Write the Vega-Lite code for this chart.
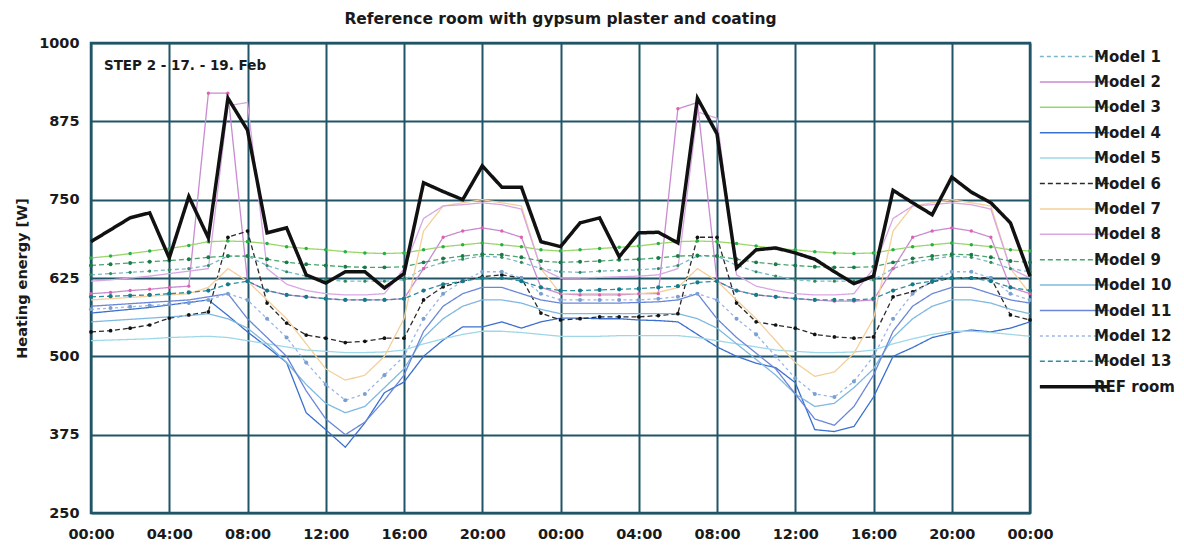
{
"$schema":"https://vega.github.io/schema/vega-lite/v6.json",
"width":939,"height":470,
"autosize":{"type":"none"},
"padding":{"left":91,"top":43,"right":154,"bottom":35},
"background":"white",
"title":{"text":"Reference room with gypsum plaster and coating","fontSize":15.5,"font":"DejaVu Sans","fontWeight":"bold","color":"#1a1a1a","offset":8,"anchor":"middle"},
"config":{
 "view":{"stroke":"#1f5566","strokeWidth":2.5},
 "axis":{"labelFont":"DejaVu Sans","labelFontWeight":"bold","labelFontSize":14.5,"labelColor":"#1a1a1a","tickSize":0,"domain":false,"gridColor":"#1f5566","gridWidth":2,"gridOpacity":1,"titleFont":"DejaVu Sans","titleFontWeight":"bold","titleFontSize":14.5,"titleColor":"#1a1a1a","labelOverlap":false,"labelFlush":false},
 "legend":{"orient":"none","legendX":976,"legendY":6,"labelFont":"DejaVu Sans","labelFontWeight":"bold","labelFontSize":15,"labelColor":"#1a1a1a","symbolType":"stroke","symbolSize":4800,"labelLimit":300,"padding":0,"rowPadding":9.4,"symbolStrokeWidth":1.5,"labelOffset":12}
},
"data":{"values":[
{"s":"Model 1","h":0,"v":630},{"s":"Model 1","h":1,"v":632},{"s":"Model 1","h":2,"v":634},{"s":"Model 1","h":3,"v":636},{"s":"Model 1","h":4,"v":638},{"s":"Model 1","h":5,"v":640},{"s":"Model 1","h":6,"v":645},{"s":"Model 1","h":7,"v":660},{"s":"Model 1","h":8,"v":660},{"s":"Model 1","h":9,"v":645},{"s":"Model 1","h":10,"v":635},{"s":"Model 1","h":11,"v":628},{"s":"Model 1","h":12,"v":622},{"s":"Model 1","h":13,"v":620},{"s":"Model 1","h":14,"v":620},{"s":"Model 1","h":15,"v":620},{"s":"Model 1","h":16,"v":622},{"s":"Model 1","h":17,"v":640},{"s":"Model 1","h":18,"v":650},{"s":"Model 1","h":19,"v":655},{"s":"Model 1","h":20,"v":660},{"s":"Model 1","h":21,"v":658},{"s":"Model 1","h":22,"v":650},{"s":"Model 1","h":23,"v":640},{"s":"Model 1","h":24,"v":635},{"s":"Model 1","h":25,"v":634},{"s":"Model 1","h":26,"v":636},{"s":"Model 1","h":27,"v":637},{"s":"Model 1","h":28,"v":638},{"s":"Model 1","h":29,"v":640},{"s":"Model 1","h":30,"v":645},{"s":"Model 1","h":31,"v":660},{"s":"Model 1","h":32,"v":660},{"s":"Model 1","h":33,"v":645},{"s":"Model 1","h":34,"v":635},{"s":"Model 1","h":35,"v":628},{"s":"Model 1","h":36,"v":622},{"s":"Model 1","h":37,"v":620},{"s":"Model 1","h":38,"v":620},{"s":"Model 1","h":39,"v":620},{"s":"Model 1","h":40,"v":622},{"s":"Model 1","h":41,"v":640},{"s":"Model 1","h":42,"v":650},{"s":"Model 1","h":43,"v":655},{"s":"Model 1","h":44,"v":660},{"s":"Model 1","h":45,"v":658},{"s":"Model 1","h":46,"v":650},{"s":"Model 1","h":47,"v":640},{"s":"Model 1","h":48,"v":635},
{"s":"Model 2","h":0,"v":600},{"s":"Model 2","h":1,"v":602},{"s":"Model 2","h":2,"v":605},{"s":"Model 2","h":3,"v":607},{"s":"Model 2","h":4,"v":610},{"s":"Model 2","h":5,"v":612},{"s":"Model 2","h":6,"v":920},{"s":"Model 2","h":7,"v":920},{"s":"Model 2","h":8,"v":620},{"s":"Model 2","h":9,"v":605},{"s":"Model 2","h":10,"v":598},{"s":"Model 2","h":11,"v":595},{"s":"Model 2","h":12,"v":592},{"s":"Model 2","h":13,"v":590},{"s":"Model 2","h":14,"v":590},{"s":"Model 2","h":15,"v":590},{"s":"Model 2","h":16,"v":592},{"s":"Model 2","h":17,"v":640},{"s":"Model 2","h":18,"v":690},{"s":"Model 2","h":19,"v":700},{"s":"Model 2","h":20,"v":705},{"s":"Model 2","h":21,"v":700},{"s":"Model 2","h":22,"v":690},{"s":"Model 2","h":23,"v":610},{"s":"Model 2","h":24,"v":600},{"s":"Model 2","h":25,"v":598},{"s":"Model 2","h":26,"v":598},{"s":"Model 2","h":27,"v":598},{"s":"Model 2","h":28,"v":600},{"s":"Model 2","h":29,"v":600},{"s":"Model 2","h":30,"v":895},{"s":"Model 2","h":31,"v":905},{"s":"Model 2","h":32,"v":620},{"s":"Model 2","h":33,"v":605},{"s":"Model 2","h":34,"v":598},{"s":"Model 2","h":35,"v":595},{"s":"Model 2","h":36,"v":592},{"s":"Model 2","h":37,"v":590},{"s":"Model 2","h":38,"v":588},{"s":"Model 2","h":39,"v":588},{"s":"Model 2","h":40,"v":590},{"s":"Model 2","h":41,"v":640},{"s":"Model 2","h":42,"v":690},{"s":"Model 2","h":43,"v":700},{"s":"Model 2","h":44,"v":705},{"s":"Model 2","h":45,"v":700},{"s":"Model 2","h":46,"v":690},{"s":"Model 2","h":47,"v":610},{"s":"Model 2","h":48,"v":600},
{"s":"Model 3","h":0,"v":657},{"s":"Model 3","h":1,"v":660},{"s":"Model 3","h":2,"v":664},{"s":"Model 3","h":3,"v":668},{"s":"Model 3","h":4,"v":672},{"s":"Model 3","h":5,"v":677},{"s":"Model 3","h":6,"v":683},{"s":"Model 3","h":7,"v":684},{"s":"Model 3","h":8,"v":683},{"s":"Model 3","h":9,"v":680},{"s":"Model 3","h":10,"v":675},{"s":"Model 3","h":11,"v":672},{"s":"Model 3","h":12,"v":670},{"s":"Model 3","h":13,"v":667},{"s":"Model 3","h":14,"v":665},{"s":"Model 3","h":15,"v":664},{"s":"Model 3","h":16,"v":665},{"s":"Model 3","h":17,"v":670},{"s":"Model 3","h":18,"v":675},{"s":"Model 3","h":19,"v":678},{"s":"Model 3","h":20,"v":681},{"s":"Model 3","h":21,"v":678},{"s":"Model 3","h":22,"v":675},{"s":"Model 3","h":23,"v":670},{"s":"Model 3","h":24,"v":668},{"s":"Model 3","h":25,"v":670},{"s":"Model 3","h":26,"v":672},{"s":"Model 3","h":27,"v":674},{"s":"Model 3","h":28,"v":676},{"s":"Model 3","h":29,"v":680},{"s":"Model 3","h":30,"v":683},{"s":"Model 3","h":31,"v":684},{"s":"Model 3","h":32,"v":683},{"s":"Model 3","h":33,"v":680},{"s":"Model 3","h":34,"v":676},{"s":"Model 3","h":35,"v":672},{"s":"Model 3","h":36,"v":670},{"s":"Model 3","h":37,"v":667},{"s":"Model 3","h":38,"v":665},{"s":"Model 3","h":39,"v":664},{"s":"Model 3","h":40,"v":665},{"s":"Model 3","h":41,"v":670},{"s":"Model 3","h":42,"v":675},{"s":"Model 3","h":43,"v":678},{"s":"Model 3","h":44,"v":681},{"s":"Model 3","h":45,"v":678},{"s":"Model 3","h":46,"v":675},{"s":"Model 3","h":47,"v":670},{"s":"Model 3","h":48,"v":668},
{"s":"Model 4","h":0,"v":569},{"s":"Model 4","h":1,"v":572},{"s":"Model 4","h":2,"v":575},{"s":"Model 4","h":3,"v":578},{"s":"Model 4","h":4,"v":582},{"s":"Model 4","h":5,"v":586},{"s":"Model 4","h":6,"v":590},{"s":"Model 4","h":7,"v":565},{"s":"Model 4","h":8,"v":539},{"s":"Model 4","h":9,"v":515},{"s":"Model 4","h":10,"v":490},{"s":"Model 4","h":11,"v":410},{"s":"Model 4","h":12,"v":383},{"s":"Model 4","h":13,"v":355},{"s":"Model 4","h":14,"v":394},{"s":"Model 4","h":15,"v":442},{"s":"Model 4","h":16,"v":459},{"s":"Model 4","h":17,"v":500},{"s":"Model 4","h":18,"v":526},{"s":"Model 4","h":19,"v":547},{"s":"Model 4","h":20,"v":547},{"s":"Model 4","h":21,"v":555},{"s":"Model 4","h":22,"v":545},{"s":"Model 4","h":23,"v":555},{"s":"Model 4","h":24,"v":561},{"s":"Model 4","h":25,"v":561},{"s":"Model 4","h":26,"v":560},{"s":"Model 4","h":27,"v":560},{"s":"Model 4","h":28,"v":558},{"s":"Model 4","h":29,"v":557},{"s":"Model 4","h":30,"v":555},{"s":"Model 4","h":31,"v":535},{"s":"Model 4","h":32,"v":515},{"s":"Model 4","h":33,"v":500},{"s":"Model 4","h":34,"v":489},{"s":"Model 4","h":35,"v":482},{"s":"Model 4","h":36,"v":458},{"s":"Model 4","h":37,"v":383},{"s":"Model 4","h":38,"v":380},{"s":"Model 4","h":39,"v":388},{"s":"Model 4","h":40,"v":435},{"s":"Model 4","h":41,"v":500},{"s":"Model 4","h":42,"v":514},{"s":"Model 4","h":43,"v":530},{"s":"Model 4","h":44,"v":537},{"s":"Model 4","h":45,"v":542},{"s":"Model 4","h":46,"v":539},{"s":"Model 4","h":47,"v":545},{"s":"Model 4","h":48,"v":555},
{"s":"Model 5","h":0,"v":525},{"s":"Model 5","h":1,"v":526},{"s":"Model 5","h":2,"v":527},{"s":"Model 5","h":3,"v":528},{"s":"Model 5","h":4,"v":530},{"s":"Model 5","h":5,"v":531},{"s":"Model 5","h":6,"v":532},{"s":"Model 5","h":7,"v":530},{"s":"Model 5","h":8,"v":525},{"s":"Model 5","h":9,"v":520},{"s":"Model 5","h":10,"v":515},{"s":"Model 5","h":11,"v":510},{"s":"Model 5","h":12,"v":508},{"s":"Model 5","h":13,"v":506},{"s":"Model 5","h":14,"v":506},{"s":"Model 5","h":15,"v":507},{"s":"Model 5","h":16,"v":510},{"s":"Model 5","h":17,"v":520},{"s":"Model 5","h":18,"v":528},{"s":"Model 5","h":19,"v":535},{"s":"Model 5","h":20,"v":540},{"s":"Model 5","h":21,"v":540},{"s":"Model 5","h":22,"v":538},{"s":"Model 5","h":23,"v":535},{"s":"Model 5","h":24,"v":532},{"s":"Model 5","h":25,"v":532},{"s":"Model 5","h":26,"v":532},{"s":"Model 5","h":27,"v":533},{"s":"Model 5","h":28,"v":533},{"s":"Model 5","h":29,"v":533},{"s":"Model 5","h":30,"v":533},{"s":"Model 5","h":31,"v":530},{"s":"Model 5","h":32,"v":525},{"s":"Model 5","h":33,"v":520},{"s":"Model 5","h":34,"v":515},{"s":"Model 5","h":35,"v":510},{"s":"Model 5","h":36,"v":508},{"s":"Model 5","h":37,"v":506},{"s":"Model 5","h":38,"v":506},{"s":"Model 5","h":39,"v":507},{"s":"Model 5","h":40,"v":510},{"s":"Model 5","h":41,"v":520},{"s":"Model 5","h":42,"v":528},{"s":"Model 5","h":43,"v":535},{"s":"Model 5","h":44,"v":540},{"s":"Model 5","h":45,"v":540},{"s":"Model 5","h":46,"v":538},{"s":"Model 5","h":47,"v":535},{"s":"Model 5","h":48,"v":532},
{"s":"Model 6","h":0,"v":539},{"s":"Model 6","h":1,"v":541},{"s":"Model 6","h":2,"v":545},{"s":"Model 6","h":3,"v":550},{"s":"Model 6","h":4,"v":561},{"s":"Model 6","h":5,"v":566},{"s":"Model 6","h":6,"v":571},{"s":"Model 6","h":7,"v":690},{"s":"Model 6","h":8,"v":700},{"s":"Model 6","h":9,"v":585},{"s":"Model 6","h":10,"v":553},{"s":"Model 6","h":11,"v":534},{"s":"Model 6","h":12,"v":529},{"s":"Model 6","h":13,"v":522},{"s":"Model 6","h":14,"v":524},{"s":"Model 6","h":15,"v":529},{"s":"Model 6","h":16,"v":529},{"s":"Model 6","h":17,"v":590},{"s":"Model 6","h":18,"v":611},{"s":"Model 6","h":19,"v":620},{"s":"Model 6","h":20,"v":627},{"s":"Model 6","h":21,"v":630},{"s":"Model 6","h":22,"v":625},{"s":"Model 6","h":23,"v":569},{"s":"Model 6","h":24,"v":558},{"s":"Model 6","h":25,"v":560},{"s":"Model 6","h":26,"v":563},{"s":"Model 6","h":27,"v":563},{"s":"Model 6","h":28,"v":563},{"s":"Model 6","h":29,"v":565},{"s":"Model 6","h":30,"v":568},{"s":"Model 6","h":31,"v":690},{"s":"Model 6","h":32,"v":690},{"s":"Model 6","h":33,"v":585},{"s":"Model 6","h":34,"v":555},{"s":"Model 6","h":35,"v":550},{"s":"Model 6","h":36,"v":545},{"s":"Model 6","h":37,"v":535},{"s":"Model 6","h":38,"v":531},{"s":"Model 6","h":39,"v":529},{"s":"Model 6","h":40,"v":531},{"s":"Model 6","h":41,"v":595},{"s":"Model 6","h":42,"v":603},{"s":"Model 6","h":43,"v":619},{"s":"Model 6","h":44,"v":625},{"s":"Model 6","h":45,"v":625},{"s":"Model 6","h":46,"v":625},{"s":"Model 6","h":47,"v":566},{"s":"Model 6","h":48,"v":558},
{"s":"Model 7","h":0,"v":590},{"s":"Model 7","h":1,"v":592},{"s":"Model 7","h":2,"v":594},{"s":"Model 7","h":3,"v":596},{"s":"Model 7","h":4,"v":598},{"s":"Model 7","h":5,"v":600},{"s":"Model 7","h":6,"v":610},{"s":"Model 7","h":7,"v":640},{"s":"Model 7","h":8,"v":620},{"s":"Model 7","h":9,"v":590},{"s":"Model 7","h":10,"v":560},{"s":"Model 7","h":11,"v":520},{"s":"Model 7","h":12,"v":480},{"s":"Model 7","h":13,"v":462},{"s":"Model 7","h":14,"v":470},{"s":"Model 7","h":15,"v":500},{"s":"Model 7","h":16,"v":560},{"s":"Model 7","h":17,"v":700},{"s":"Model 7","h":18,"v":740},{"s":"Model 7","h":19,"v":745},{"s":"Model 7","h":20,"v":750},{"s":"Model 7","h":21,"v":745},{"s":"Model 7","h":22,"v":740},{"s":"Model 7","h":23,"v":640},{"s":"Model 7","h":24,"v":600},{"s":"Model 7","h":25,"v":600},{"s":"Model 7","h":26,"v":600},{"s":"Model 7","h":27,"v":600},{"s":"Model 7","h":28,"v":600},{"s":"Model 7","h":29,"v":602},{"s":"Model 7","h":30,"v":610},{"s":"Model 7","h":31,"v":640},{"s":"Model 7","h":32,"v":620},{"s":"Model 7","h":33,"v":590},{"s":"Model 7","h":34,"v":560},{"s":"Model 7","h":35,"v":525},{"s":"Model 7","h":36,"v":490},{"s":"Model 7","h":37,"v":468},{"s":"Model 7","h":38,"v":475},{"s":"Model 7","h":39,"v":505},{"s":"Model 7","h":40,"v":560},{"s":"Model 7","h":41,"v":700},{"s":"Model 7","h":42,"v":740},{"s":"Model 7","h":43,"v":745},{"s":"Model 7","h":44,"v":750},{"s":"Model 7","h":45,"v":745},{"s":"Model 7","h":46,"v":740},{"s":"Model 7","h":47,"v":640},{"s":"Model 7","h":48,"v":600},
{"s":"Model 8","h":0,"v":620},{"s":"Model 8","h":1,"v":622},{"s":"Model 8","h":2,"v":625},{"s":"Model 8","h":3,"v":628},{"s":"Model 8","h":4,"v":632},{"s":"Model 8","h":5,"v":636},{"s":"Model 8","h":6,"v":640},{"s":"Model 8","h":7,"v":900},{"s":"Model 8","h":8,"v":905},{"s":"Model 8","h":9,"v":640},{"s":"Model 8","h":10,"v":615},{"s":"Model 8","h":11,"v":605},{"s":"Model 8","h":12,"v":600},{"s":"Model 8","h":13,"v":598},{"s":"Model 8","h":14,"v":598},{"s":"Model 8","h":15,"v":600},{"s":"Model 8","h":16,"v":640},{"s":"Model 8","h":17,"v":720},{"s":"Model 8","h":18,"v":740},{"s":"Model 8","h":19,"v":742},{"s":"Model 8","h":20,"v":745},{"s":"Model 8","h":21,"v":742},{"s":"Model 8","h":22,"v":735},{"s":"Model 8","h":23,"v":640},{"s":"Model 8","h":24,"v":625},{"s":"Model 8","h":25,"v":625},{"s":"Model 8","h":26,"v":626},{"s":"Model 8","h":27,"v":627},{"s":"Model 8","h":28,"v":628},{"s":"Model 8","h":29,"v":630},{"s":"Model 8","h":30,"v":640},{"s":"Model 8","h":31,"v":890},{"s":"Model 8","h":32,"v":880},{"s":"Model 8","h":33,"v":630},{"s":"Model 8","h":34,"v":612},{"s":"Model 8","h":35,"v":605},{"s":"Model 8","h":36,"v":600},{"s":"Model 8","h":37,"v":598},{"s":"Model 8","h":38,"v":598},{"s":"Model 8","h":39,"v":600},{"s":"Model 8","h":40,"v":640},{"s":"Model 8","h":41,"v":720},{"s":"Model 8","h":42,"v":740},{"s":"Model 8","h":43,"v":742},{"s":"Model 8","h":44,"v":745},{"s":"Model 8","h":45,"v":742},{"s":"Model 8","h":46,"v":735},{"s":"Model 8","h":47,"v":640},{"s":"Model 8","h":48,"v":625},
{"s":"Model 9","h":0,"v":645},{"s":"Model 9","h":1,"v":647},{"s":"Model 9","h":2,"v":649},{"s":"Model 9","h":3,"v":651},{"s":"Model 9","h":4,"v":653},{"s":"Model 9","h":5,"v":655},{"s":"Model 9","h":6,"v":658},{"s":"Model 9","h":7,"v":660},{"s":"Model 9","h":8,"v":660},{"s":"Model 9","h":9,"v":655},{"s":"Model 9","h":10,"v":650},{"s":"Model 9","h":11,"v":647},{"s":"Model 9","h":12,"v":645},{"s":"Model 9","h":13,"v":643},{"s":"Model 9","h":14,"v":642},{"s":"Model 9","h":15,"v":642},{"s":"Model 9","h":16,"v":643},{"s":"Model 9","h":17,"v":650},{"s":"Model 9","h":18,"v":656},{"s":"Model 9","h":19,"v":660},{"s":"Model 9","h":20,"v":663},{"s":"Model 9","h":21,"v":662},{"s":"Model 9","h":22,"v":658},{"s":"Model 9","h":23,"v":652},{"s":"Model 9","h":24,"v":650},{"s":"Model 9","h":25,"v":651},{"s":"Model 9","h":26,"v":652},{"s":"Model 9","h":27,"v":654},{"s":"Model 9","h":28,"v":655},{"s":"Model 9","h":29,"v":657},{"s":"Model 9","h":30,"v":660},{"s":"Model 9","h":31,"v":661},{"s":"Model 9","h":32,"v":660},{"s":"Model 9","h":33,"v":655},{"s":"Model 9","h":34,"v":650},{"s":"Model 9","h":35,"v":647},{"s":"Model 9","h":36,"v":645},{"s":"Model 9","h":37,"v":643},{"s":"Model 9","h":38,"v":642},{"s":"Model 9","h":39,"v":642},{"s":"Model 9","h":40,"v":643},{"s":"Model 9","h":41,"v":650},{"s":"Model 9","h":42,"v":656},{"s":"Model 9","h":43,"v":660},{"s":"Model 9","h":44,"v":663},{"s":"Model 9","h":45,"v":662},{"s":"Model 9","h":46,"v":658},{"s":"Model 9","h":47,"v":652},{"s":"Model 9","h":48,"v":650},
{"s":"Model 10","h":0,"v":555},{"s":"Model 10","h":1,"v":557},{"s":"Model 10","h":2,"v":559},{"s":"Model 10","h":3,"v":561},{"s":"Model 10","h":4,"v":563},{"s":"Model 10","h":5,"v":565},{"s":"Model 10","h":6,"v":568},{"s":"Model 10","h":7,"v":560},{"s":"Model 10","h":8,"v":545},{"s":"Model 10","h":9,"v":520},{"s":"Model 10","h":10,"v":490},{"s":"Model 10","h":11,"v":455},{"s":"Model 10","h":12,"v":425},{"s":"Model 10","h":13,"v":410},{"s":"Model 10","h":14,"v":420},{"s":"Model 10","h":15,"v":450},{"s":"Model 10","h":16,"v":480},{"s":"Model 10","h":17,"v":530},{"s":"Model 10","h":18,"v":560},{"s":"Model 10","h":19,"v":580},{"s":"Model 10","h":20,"v":590},{"s":"Model 10","h":21,"v":590},{"s":"Model 10","h":22,"v":585},{"s":"Model 10","h":23,"v":575},{"s":"Model 10","h":24,"v":568},{"s":"Model 10","h":25,"v":568},{"s":"Model 10","h":26,"v":568},{"s":"Model 10","h":27,"v":568},{"s":"Model 10","h":28,"v":568},{"s":"Model 10","h":29,"v":568},{"s":"Model 10","h":30,"v":568},{"s":"Model 10","h":31,"v":560},{"s":"Model 10","h":32,"v":545},{"s":"Model 10","h":33,"v":520},{"s":"Model 10","h":34,"v":495},{"s":"Model 10","h":35,"v":470},{"s":"Model 10","h":36,"v":440},{"s":"Model 10","h":37,"v":420},{"s":"Model 10","h":38,"v":425},{"s":"Model 10","h":39,"v":450},{"s":"Model 10","h":40,"v":480},{"s":"Model 10","h":41,"v":530},{"s":"Model 10","h":42,"v":560},{"s":"Model 10","h":43,"v":580},{"s":"Model 10","h":44,"v":590},{"s":"Model 10","h":45,"v":590},{"s":"Model 10","h":46,"v":585},{"s":"Model 10","h":47,"v":575},{"s":"Model 10","h":48,"v":568},
{"s":"Model 11","h":0,"v":580},{"s":"Model 11","h":1,"v":582},{"s":"Model 11","h":2,"v":584},{"s":"Model 11","h":3,"v":586},{"s":"Model 11","h":4,"v":588},{"s":"Model 11","h":5,"v":590},{"s":"Model 11","h":6,"v":595},{"s":"Model 11","h":7,"v":600},{"s":"Model 11","h":8,"v":560},{"s":"Model 11","h":9,"v":530},{"s":"Model 11","h":10,"v":500},{"s":"Model 11","h":11,"v":445},{"s":"Model 11","h":12,"v":400},{"s":"Model 11","h":13,"v":375},{"s":"Model 11","h":14,"v":395},{"s":"Model 11","h":15,"v":430},{"s":"Model 11","h":16,"v":470},{"s":"Model 11","h":17,"v":540},{"s":"Model 11","h":18,"v":580},{"s":"Model 11","h":19,"v":600},{"s":"Model 11","h":20,"v":610},{"s":"Model 11","h":21,"v":610},{"s":"Model 11","h":22,"v":600},{"s":"Model 11","h":23,"v":590},{"s":"Model 11","h":24,"v":585},{"s":"Model 11","h":25,"v":585},{"s":"Model 11","h":26,"v":585},{"s":"Model 11","h":27,"v":585},{"s":"Model 11","h":28,"v":586},{"s":"Model 11","h":29,"v":587},{"s":"Model 11","h":30,"v":590},{"s":"Model 11","h":31,"v":600},{"s":"Model 11","h":32,"v":560},{"s":"Model 11","h":33,"v":530},{"s":"Model 11","h":34,"v":505},{"s":"Model 11","h":35,"v":480},{"s":"Model 11","h":36,"v":440},{"s":"Model 11","h":37,"v":400},{"s":"Model 11","h":38,"v":390},{"s":"Model 11","h":39,"v":420},{"s":"Model 11","h":40,"v":470},{"s":"Model 11","h":41,"v":540},{"s":"Model 11","h":42,"v":580},{"s":"Model 11","h":43,"v":600},{"s":"Model 11","h":44,"v":610},{"s":"Model 11","h":45,"v":610},{"s":"Model 11","h":46,"v":600},{"s":"Model 11","h":47,"v":590},{"s":"Model 11","h":48,"v":585},
{"s":"Model 12","h":0,"v":575},{"s":"Model 12","h":1,"v":577},{"s":"Model 12","h":2,"v":579},{"s":"Model 12","h":3,"v":581},{"s":"Model 12","h":4,"v":583},{"s":"Model 12","h":5,"v":585},{"s":"Model 12","h":6,"v":590},{"s":"Model 12","h":7,"v":600},{"s":"Model 12","h":8,"v":590},{"s":"Model 12","h":9,"v":560},{"s":"Model 12","h":10,"v":530},{"s":"Model 12","h":11,"v":490},{"s":"Model 12","h":12,"v":455},{"s":"Model 12","h":13,"v":430},{"s":"Model 12","h":14,"v":440},{"s":"Model 12","h":15,"v":470},{"s":"Model 12","h":16,"v":500},{"s":"Model 12","h":17,"v":560},{"s":"Model 12","h":18,"v":600},{"s":"Model 12","h":19,"v":620},{"s":"Model 12","h":20,"v":635},{"s":"Model 12","h":21,"v":635},{"s":"Model 12","h":22,"v":625},{"s":"Model 12","h":23,"v":600},{"s":"Model 12","h":24,"v":590},{"s":"Model 12","h":25,"v":590},{"s":"Model 12","h":26,"v":590},{"s":"Model 12","h":27,"v":590},{"s":"Model 12","h":28,"v":590},{"s":"Model 12","h":29,"v":592},{"s":"Model 12","h":30,"v":595},{"s":"Model 12","h":31,"v":600},{"s":"Model 12","h":32,"v":590},{"s":"Model 12","h":33,"v":560},{"s":"Model 12","h":34,"v":535},{"s":"Model 12","h":35,"v":500},{"s":"Model 12","h":36,"v":465},{"s":"Model 12","h":37,"v":440},{"s":"Model 12","h":38,"v":435},{"s":"Model 12","h":39,"v":460},{"s":"Model 12","h":40,"v":500},{"s":"Model 12","h":41,"v":560},{"s":"Model 12","h":42,"v":600},{"s":"Model 12","h":43,"v":620},{"s":"Model 12","h":44,"v":635},{"s":"Model 12","h":45,"v":635},{"s":"Model 12","h":46,"v":625},{"s":"Model 12","h":47,"v":600},{"s":"Model 12","h":48,"v":590},
{"s":"Model 13","h":0,"v":595},{"s":"Model 13","h":1,"v":596},{"s":"Model 13","h":2,"v":597},{"s":"Model 13","h":3,"v":598},{"s":"Model 13","h":4,"v":600},{"s":"Model 13","h":5,"v":602},{"s":"Model 13","h":6,"v":605},{"s":"Model 13","h":7,"v":615},{"s":"Model 13","h":8,"v":620},{"s":"Model 13","h":9,"v":605},{"s":"Model 13","h":10,"v":598},{"s":"Model 13","h":11,"v":595},{"s":"Model 13","h":12,"v":592},{"s":"Model 13","h":13,"v":590},{"s":"Model 13","h":14,"v":590},{"s":"Model 13","h":15,"v":590},{"s":"Model 13","h":16,"v":592},{"s":"Model 13","h":17,"v":605},{"s":"Model 13","h":18,"v":615},{"s":"Model 13","h":19,"v":620},{"s":"Model 13","h":20,"v":625},{"s":"Model 13","h":21,"v":625},{"s":"Model 13","h":22,"v":620},{"s":"Model 13","h":23,"v":610},{"s":"Model 13","h":24,"v":605},{"s":"Model 13","h":25,"v":605},{"s":"Model 13","h":26,"v":606},{"s":"Model 13","h":27,"v":607},{"s":"Model 13","h":28,"v":608},{"s":"Model 13","h":29,"v":610},{"s":"Model 13","h":30,"v":612},{"s":"Model 13","h":31,"v":618},{"s":"Model 13","h":32,"v":620},{"s":"Model 13","h":33,"v":605},{"s":"Model 13","h":34,"v":598},{"s":"Model 13","h":35,"v":595},{"s":"Model 13","h":36,"v":592},{"s":"Model 13","h":37,"v":590},{"s":"Model 13","h":38,"v":590},{"s":"Model 13","h":39,"v":590},{"s":"Model 13","h":40,"v":592},{"s":"Model 13","h":41,"v":605},{"s":"Model 13","h":42,"v":615},{"s":"Model 13","h":43,"v":620},{"s":"Model 13","h":44,"v":625},{"s":"Model 13","h":45,"v":625},{"s":"Model 13","h":46,"v":620},{"s":"Model 13","h":47,"v":610},{"s":"Model 13","h":48,"v":605},
{"s":"REF room","h":0,"v":683},{"s":"REF room","h":1,"v":702},{"s":"REF room","h":2,"v":721},{"s":"REF room","h":3,"v":729},{"s":"REF room","h":4,"v":657},{"s":"REF room","h":5,"v":755},{"s":"REF room","h":6,"v":689},{"s":"REF room","h":7,"v":912},{"s":"REF room","h":8,"v":861},{"s":"REF room","h":9,"v":697},{"s":"REF room","h":10,"v":705},{"s":"REF room","h":11,"v":630},{"s":"REF room","h":12,"v":617},{"s":"REF room","h":13,"v":635},{"s":"REF room","h":14,"v":635},{"s":"REF room","h":15,"v":609},{"s":"REF room","h":16,"v":632},{"s":"REF room","h":17,"v":777},{"s":"REF room","h":18,"v":763},{"s":"REF room","h":19,"v":750},{"s":"REF room","h":20,"v":804},{"s":"REF room","h":21,"v":770},{"s":"REF room","h":22,"v":770},{"s":"REF room","h":23,"v":683},{"s":"REF room","h":24,"v":675},{"s":"REF room","h":25,"v":713},{"s":"REF room","h":26,"v":721},{"s":"REF room","h":27,"v":659},{"s":"REF room","h":28,"v":697},{"s":"REF room","h":29,"v":698},{"s":"REF room","h":30,"v":681},{"s":"REF room","h":31,"v":912},{"s":"REF room","h":32,"v":855},{"s":"REF room","h":33,"v":641},{"s":"REF room","h":34,"v":670},{"s":"REF room","h":35,"v":673},{"s":"REF room","h":36,"v":665},{"s":"REF room","h":37,"v":655},{"s":"REF room","h":38,"v":635},{"s":"REF room","h":39,"v":616},{"s":"REF room","h":40,"v":628},{"s":"REF room","h":41,"v":765},{"s":"REF room","h":42,"v":745},{"s":"REF room","h":43,"v":726},{"s":"REF room","h":44,"v":786},{"s":"REF room","h":45,"v":762},{"s":"REF room","h":46,"v":745},{"s":"REF room","h":47,"v":713},{"s":"REF room","h":48,"v":628}
]},
"layer":[
 {"transform":[{"filter":"datum.s !== 'REF room'"}],
  "mark":{"type":"line","strokeWidth":1.3,"strokeJoin":"miter"},
  "encoding":{
   "x":{"field":"h","type":"quantitative","scale":{"domain":[0,48],"nice":false,"zero":false},"axis":{"values":[0,4,8,12,16,20,24,28,32,36,40,44,48],"labelExpr":"(datum.value % 24 < 10 ? '0' : '') + (datum.value % 24) + ':00'","title":null,"grid":true,"labelPadding":14}},
   "y":{"field":"v","type":"quantitative","scale":{"domain":[250,1000],"nice":false,"zero":false},"axis":{"values":[250,375,500,625,750,875,1000],"format":"d","title":"Heating energy [W]","grid":true,"labelPadding":12,"titlePadding":9}},
   "color":{"field":"s","type":"nominal","title":null,"scale":{"domain":["Model 1","Model 2","Model 3","Model 4","Model 5","Model 6","Model 7","Model 8","Model 9","Model 10","Model 11","Model 12","Model 13","REF room"],"range":["#7ab8c9","#c88ad0","#9bd66b","#3b6fcf","#9ed8e8","#2a2a2a","#f4cf9a","#d7a6e3","#4aa36b","#7fb8e0","#6a86d8","#9ab6e6","#2a8fa0","#111111"]},
     "legend":{"encode":{"symbols":{"update":{"strokeWidth":{"signal":"datum.value === 'REF room' ? 3.5 : 1.5"}}}}}},
   "strokeDash":{"field":"s","type":"nominal","title":null,"scale":{"domain":["Model 1","Model 2","Model 3","Model 4","Model 5","Model 6","Model 7","Model 8","Model 9","Model 10","Model 11","Model 12","Model 13","REF room"],"range":[[4,3],[1,0],[1,0],[1,0],[1,0],[5,3],[1,0],[1,0],[5,3],[1,0],[1,0],[3,3],[5,3],[1,0]]}}
  }},
 {"transform":[{"filter":{"field":"s","oneOf":["Model 1","Model 2","Model 3","Model 6","Model 9","Model 12","Model 13"]}}],
  "mark":{"type":"point","filled":true,"strokeWidth":0,"opacity":1},
  "encoding":{
   "x":{"field":"h","type":"quantitative"},
   "y":{"field":"v","type":"quantitative"},
   "fill":{"field":"s","type":"nominal","legend":null,"scale":{"domain":["Model 1","Model 2","Model 3","Model 6","Model 9","Model 12","Model 13"],"range":["#2e8b57","#e060b0","#27b044","#111111","#1a7a4a","#7aa0d0","#137a8a"]}},
   "size":{"field":"s","type":"nominal","legend":null,"scale":{"domain":["Model 1","Model 2","Model 3","Model 6","Model 9","Model 12","Model 13"],"range":[10,18,45,14,24,10,28]}}
  }},
 {"transform":[{"filter":"datum.s === 'REF room'"}],
  "mark":{"type":"line","strokeWidth":3.5,"strokeJoin":"miter"},
  "encoding":{
   "x":{"field":"h","type":"quantitative"},
   "y":{"field":"v","type":"quantitative"},
   "color":{"field":"s","type":"nominal"},
   "strokeDash":{"field":"s","type":"nominal"}
  }},
 {"data":{"values":[{"label":"STEP 2 - 17. - 19. Feb","h":0.66,"v":963}]},
  "mark":{"type":"text","align":"left","baseline":"middle","font":"DejaVu Sans","fontWeight":"bold","fontSize":13.5,"color":"#1a1a1a"},
  "encoding":{"x":{"field":"h","type":"quantitative"},"y":{"field":"v","type":"quantitative"},"text":{"field":"label"}}}
]
}
